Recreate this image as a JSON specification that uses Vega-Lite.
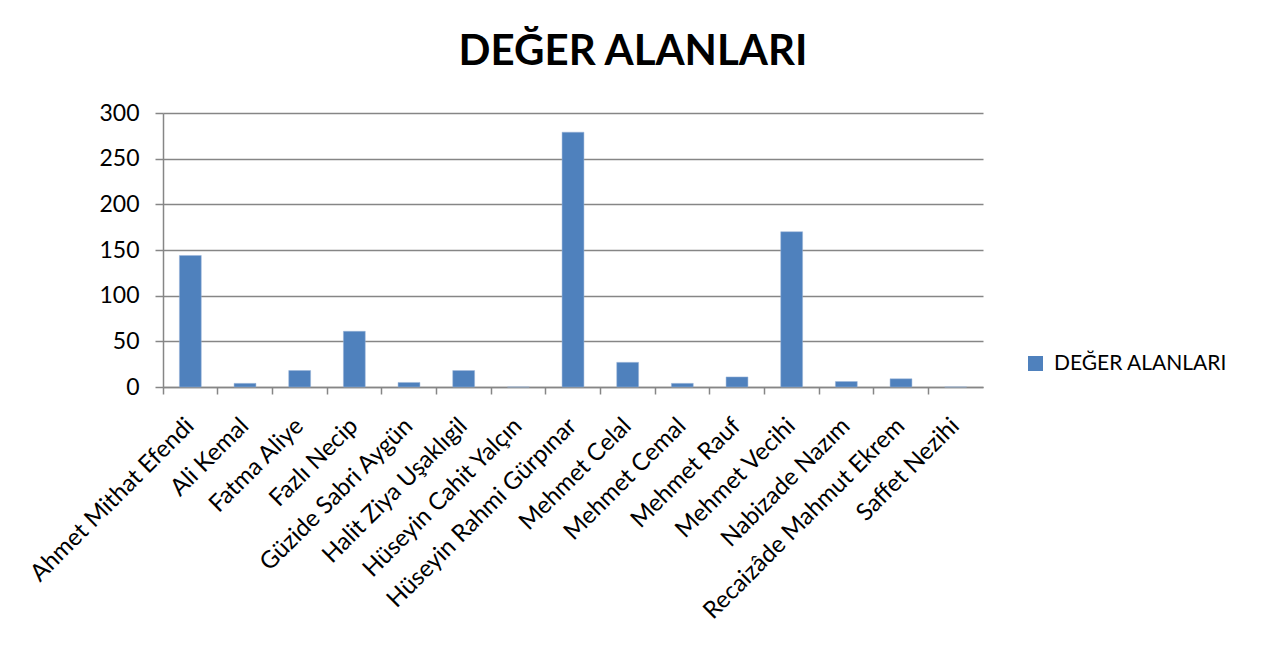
{
  "$schema": "https://vega.github.io/schema/vega-lite/v6.json",
  "autosize": "none",
  "width": 820,
  "height": 274,
  "padding": {"left": 163, "top": 113, "right": 292, "bottom": 259},
  "background": "white",
  "title": {
    "text": "DEĞER ALANLARI",
    "font": "Lato",
    "fontSize": 42,
    "fontWeight": "bold",
    "color": "black",
    "anchor": "middle",
    "dx": 60,
    "offset": 28
  },
  "data": {
    "values": [
      {"yazar": "Ahmet Mithat Efendi", "deger": 144, "seri": "DEĞER ALANLARI"},
      {"yazar": "Ali Kemal", "deger": 4, "seri": "DEĞER ALANLARI"},
      {"yazar": "Fatma Aliye", "deger": 18, "seri": "DEĞER ALANLARI"},
      {"yazar": "Fazlı Necip", "deger": 61, "seri": "DEĞER ALANLARI"},
      {"yazar": "Güzide Sabri Aygün", "deger": 5, "seri": "DEĞER ALANLARI"},
      {"yazar": "Halit Ziya Uşaklıgil", "deger": 18, "seri": "DEĞER ALANLARI"},
      {"yazar": "Hüseyin Cahit Yalçın", "deger": 0, "seri": "DEĞER ALANLARI"},
      {"yazar": "Hüseyin Rahmi Gürpınar", "deger": 279, "seri": "DEĞER ALANLARI"},
      {"yazar": "Mehmet Celal", "deger": 27, "seri": "DEĞER ALANLARI"},
      {"yazar": "Mehmet Cemal", "deger": 4, "seri": "DEĞER ALANLARI"},
      {"yazar": "Mehmet Rauf", "deger": 11, "seri": "DEĞER ALANLARI"},
      {"yazar": "Mehmet Vecihi", "deger": 170, "seri": "DEĞER ALANLARI"},
      {"yazar": "Nabizade Nazım", "deger": 6, "seri": "DEĞER ALANLARI"},
      {"yazar": "Recaizâde Mahmut Ekrem", "deger": 9, "seri": "DEĞER ALANLARI"},
      {"yazar": "Saffet Nezihi", "deger": 0, "seri": "DEĞER ALANLARI"}
    ]
  },
  "mark": {"type": "bar", "width": {"band": 0.4}, "stroke": "#9bb5d9", "strokeWidth": 0.5},
  "encoding": {
    "x": {
      "field": "yazar",
      "type": "nominal",
      "sort": null,
      "title": null,
      "scale": {"paddingInner": 0, "paddingOuter": 0},
      "axis": {
        "bandPosition": 0,
        "labelAngle": -45,
        "labelAlign": "right",
        "labelBaseline": "middle",
        "labelFont": "Lato",
        "labelFontSize": 24,
        "labelColor": "black",
        "labelOffset": 0,
        "labelPadding": 28,
        "labelLimit": 400,
        "labelOverlap": false,
        "domainColor": "#868686",
        "domainWidth": 1.5,
        "tickColor": "#868686",
        "tickSize": 7,
        "tickWidth": 1.5,
        "grid": false
      }
    },
    "y": {
      "field": "deger",
      "type": "quantitative",
      "title": null,
      "scale": {"domain": [0, 300]},
      "axis": {
        "values": [0, 50, 100, 150, 200, 250, 300],
        "labelFont": "Lato",
        "labelFontSize": 23,
        "labelColor": "black",
        "labelPadding": 16,
        "domainColor": "#868686",
        "domainWidth": 1.5,
        "tickColor": "#868686",
        "tickSize": 8,
        "tickWidth": 1.5,
        "gridColor": "#868686",
        "gridWidth": 1.5
      }
    },
    "color": {
      "field": "seri",
      "type": "nominal",
      "scale": {"range": ["#4f81bd"]},
      "legend": {
        "title": null,
        "orient": "none",
        "legendX": 862,
        "legendY": 240,
        "symbolType": "square",
        "symbolSize": 225,
        "symbolStrokeWidth": 0,
        "labelFont": "Lato",
        "labelFontSize": 21,
        "labelLimit": 400,
        "labelColor": "black",
        "labelOffset": 8
      }
    }
  },
  "config": {"view": {"stroke": null}}
}
